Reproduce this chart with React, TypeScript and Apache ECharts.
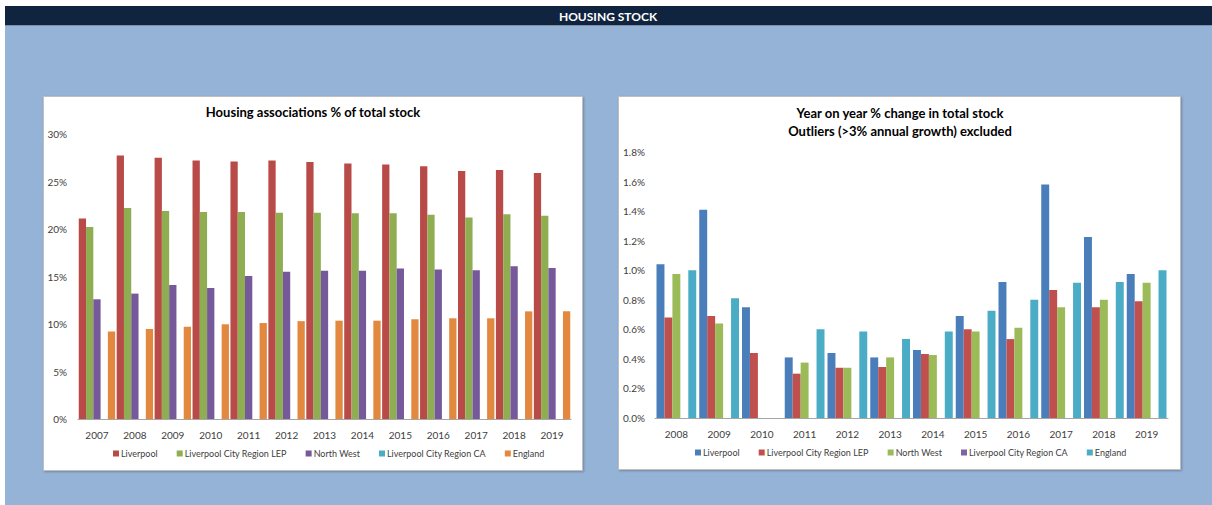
import React, { useEffect, useRef } from "react";
import * as echarts from "echarts";

const years1 = ["2007", "2008", "2009", "2010", "2011", "2012", "2013", "2014", "2015", "2016", "2017", "2018", "2019"];
const liverpool1 = [21.1, 27.75, 27.5, 27.2, 27.1, 27.2, 27.05, 26.9, 26.8, 26.6, 26.1, 26.2, 25.9];
const lep1 = [20.2, 22.2, 21.9, 21.8, 21.8, 21.7, 21.7, 21.65, 21.65, 21.5, 21.2, 21.55, 21.4];
const nw1 = [12.6, 13.2, 14.1, 13.8, 15.05, 15.5, 15.6, 15.6, 15.85, 15.75, 15.65, 16.07, 15.9];
const ca1 = [null, null, null, null, null, null, null, null, null, null, null, null, null];
const eng1 = [9.2, 9.47, 9.7, 9.97, 10.1, 10.3, 10.35, 10.35, 10.5, 10.6, 10.6, 11.33, 11.33];

const years2 = ["2008", "2009", "2010", "2011", "2012", "2013", "2014", "2015", "2016", "2017", "2018", "2019"];
const liverpool2 = [1.04, 1.41, 0.75, 0.41, 0.44, 0.41, 0.46, 0.69, 0.92, 1.58, 1.225, 0.975];
const lep2 = [0.68, 0.69, 0.44, 0.3, 0.34, 0.345, 0.433, 0.6, 0.534, 0.866, 0.75, 0.79];
const nw2 = [0.975, 0.64, null, 0.375, 0.34, 0.41, 0.426, 0.585, 0.61, 0.75, 0.8, 0.915];
const ca2 = [null, null, null, null, null, null, null, null, null, null, null, null];
const eng2 = [1.0, 0.81, null, 0.6, 0.585, 0.535, 0.585, 0.726, 0.8, 0.915, 0.92, 1.0];

const seriesNames = ["Liverpool", "Liverpool City Region LEP", "North West", "Liverpool City Region CA", "England"];
const colors1 = ["#B84A47", "#8FAE52", "#76599A", "#4BACC6", "#E2883F"];
const colors2 = ["#4A7EBB", "#C0504D", "#9BBB59", "#8064A2", "#4BACC6"];

const FONT = "Lato, 'Open Sans', sans-serif";

export default function App() {
  const ref = useRef<HTMLDivElement>(null);
  useEffect(() => {
    if (!ref.current) return;
    const chart = echarts.init(ref.current, null, { renderer: "svg" });
    const data1 = [liverpool1, lep1, nw1, ca1, eng1];
    const data2 = [liverpool2, lep2, nw2, ca2, eng2];
    const axisLabel = { color: "#404040", fontSize: 10, fontFamily: FONT };
    const series: any[] = [];
    data1.forEach((d, i) =>
      series.push({
        type: "bar",
        name: seriesNames[i],
        xAxisIndex: 0,
        yAxisIndex: 0,
        data: d,
        barGap: "0%",
        barCategoryGap: "4%",
        itemStyle: { color: colors1[i] },
      })
    );
    data2.forEach((d, i) =>
      series.push({
        type: "bar",
        name: seriesNames[i],
        xAxisIndex: 1,
        yAxisIndex: 1,
        data: d,
        barGap: "0%",
        barCategoryGap: "7%",
        itemStyle: { color: colors2[i] },
      })
    );
    const legendBase = {
      orient: "horizontal",
      icon: "rect",
      itemWidth: 6,
      itemHeight: 6,
      itemGap: 19,
      textStyle: { color: "#404040", fontSize: 9, fontFamily: FONT, padding: [0, 0, 0, -3] },
    };
    chart.setOption({
      animation: false,
      textStyle: { fontFamily: FONT },
      graphic: [
        { type: "rect", z: -20, silent: true, shape: { x: 0, y: 0, width: 1212, height: 505 }, style: { fill: "#ffffff" } },
        { type: "rect", z: -19, silent: true, shape: { x: 5, y: 6, width: 1207, height: 19 }, style: { fill: "#10233F" } },
        { type: "rect", z: -19, silent: true, shape: { x: 5, y: 25, width: 1207, height: 480 }, style: { fill: "#95B3D7" } },
        { type: "line", z: -18, silent: true, shape: { x1: 5, y1: 25.5, x2: 1212, y2: 25.5 }, style: { stroke: "#7F8FA6", lineWidth: 1 } },
        {
          type: "rect", z: -18, silent: true,
          shape: { x: 43.5, y: 96.5, width: 539, height: 374 },
          style: { fill: "#ffffff", stroke: "#BFBFBF", lineWidth: 1, shadowColor: "rgba(0,0,0,0.25)", shadowBlur: 2, shadowOffsetX: 1, shadowOffsetY: 1 },
        },
        {
          type: "rect", z: -18, silent: true,
          shape: { x: 618.5, y: 96.5, width: 562, height: 373 },
          style: { fill: "#ffffff", stroke: "#BFBFBF", lineWidth: 1, shadowColor: "rgba(0,0,0,0.25)", shadowBlur: 2, shadowOffsetX: 1, shadowOffsetY: 1 },
        },
        {
          type: "text", z: 10, x: 608, y: 16,
          style: { text: "HOUSING STOCK", fill: "#ffffff", font: `bold 12px ${FONT}`, textAlign: "center", textVerticalAlign: "middle" },
        },
        {
          type: "text", z: 10, x: 313, y: 112,
          style: { text: "Housing associations % of total stock", fill: "#000000", font: `bold 13px ${FONT}`, textAlign: "center", textVerticalAlign: "middle" },
        },
        {
          type: "text", z: 10, x: 900, y: 113,
          style: { text: "Year on year % change in total stock", fill: "#000000", font: `bold 13px ${FONT}`, textAlign: "center", textVerticalAlign: "middle" },
        },
        {
          type: "text", z: 10, x: 900, y: 131,
          style: { text: "Outliers (>3% annual growth) excluded", fill: "#000000", font: `bold 13px ${FONT}`, textAlign: "center", textVerticalAlign: "middle" },
        },
      ],
      legend: [
        {
          ...legendBase,
          left: 108,
          top: 444,
          data: seriesNames.map((n, i) => ({ name: n, itemStyle: { color: colors1[i] } })),
        },
        {
          ...legendBase,
          left: 690,
          top: 443,
          data: seriesNames.map((n, i) => ({ name: n, itemStyle: { color: colors2[i] } })),
        },
      ],
      grid: [
        { left: 78, right: 641, top: 134, bottom: 86 },
        { left: 655, right: 44, top: 152, bottom: 87 },
      ],
      xAxis: [
        {
          type: "category",
          gridIndex: 0,
          data: years1,
          axisLine: { lineStyle: { color: "#A6A6A6" } },
          axisTick: { show: false },
          axisLabel: { ...axisLabel, margin: 11 },
        },
        {
          type: "category",
          gridIndex: 1,
          data: years2,
          axisLine: { lineStyle: { color: "#A6A6A6" } },
          axisTick: { show: false },
          axisLabel: { ...axisLabel, margin: 11 },
        },
      ],
      yAxis: [
        {
          type: "value",
          gridIndex: 0,
          min: 0,
          max: 30,
          interval: 5,
          axisLine: { show: false },
          axisTick: { show: false },
          splitLine: { show: false },
          axisLabel: { ...axisLabel, margin: 11, formatter: (v: number) => `${v}%` },
        },
        {
          type: "value",
          gridIndex: 1,
          min: 0,
          max: 1.8,
          interval: 0.2,
          axisLine: { show: false },
          axisTick: { show: false },
          splitLine: { show: false },
          axisLabel: { ...axisLabel, margin: 10, formatter: (v: number) => `${v.toFixed(1)}%` },
        },
      ],
      series,
    });
    return () => chart.dispose();
  }, []);
  return <div ref={ref} style={{ position: "absolute", left: 0, top: 0, width: 1212, height: 505 }} />;
}
